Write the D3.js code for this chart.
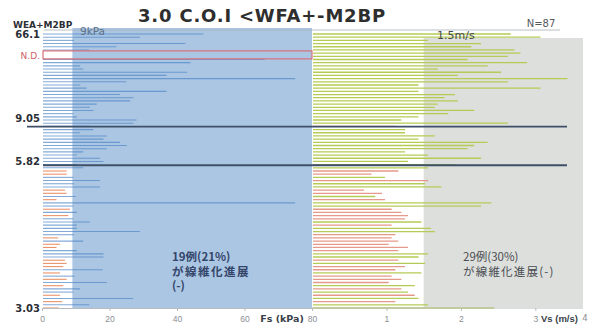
<!DOCTYPE html>
<html>
<head>
<meta charset="utf-8">
<script src="https://cdn.jsdelivr.net/npm/d3@7"></script>
<style>
  body { margin: 0; background: #fff; }
  svg { display: block; }
</style>
</head>
<body>
<div id="chartdiv"></div>
<script>
// Fs (kPa) per patient, sorted by WFA+-M2BP (66.1 at top -> 3.03 at bottom); null = N.D.
var fsValues = [
  47.8, 29, 9.5, 42.5, 22, 14, null, null, 66, 44,
  11.3, 12.2, 43, 36.9, 75, 25, 11.3, 13.2, 36.9, 23.1,
  27.1, 26.1, 16.2, 14.2, 15.2, 9.3, 10.3, 28, 27.1, 14.2,
  15.2, 11.3, 19.2, 18.2, 23.1, 25.1, 19.2, 12.2, 10.3, 17.2,
  18.2, 10.3, 12.2, 7.3, 7.3, 9.3, 17.2, 9.5, 17.2, 6.8,
  7.3, 10, 4.3, 75, 9.3, 8.3, 10.3, 7.8, 9.3, 14.2,
  10.3, 10.3, 29, 9.5, 4.8, 12.2, 5.3, 4.3, 10.3, 18.2,
  18.2, 6.8, 7.3, 6.3, 18, 5.3, 9.6, 7.3, 19.2, 6.3,
  11.3, 9.3, 5.3, 27, 6, 14, 5
];
// Vs (m/s) per patient, same order
var vsValues = [
  2.67, 3.07, 1.56, 2.27, 2.14, 2.72, 2.8, 2.63, 2.09, 2.89,
  2.36, 1.69, 2.54, 1.96, 3.43, 2.63, 1.43, 3.07, 1.43, 1.92,
  1.78, 1.96, 1.69, 1.65, 2.18, 1.83, 1.43, 1.2, 2.63, 1.12,
  1.25, 1.25, 1.65, 1.43, 2.36, 2.18, 2.09, 1.25, 1.56, 2.27,
  1.29, 1.92, 1.56, 1.16, 0.8, 0.98, 1.56, 1.52, 1.74, 0.7,
  0.94, 0.85, 0.98, 2.41, 2.27, 1.07, 1.2, 1.29, 1.25, 1.47,
  1.07, 1.6, 1.65, 1.12, 1.07, 1.16, 1.03, 1.29, 1.16, 1.56,
  1.43, 1.16, 1.52, 1.25, 1.12, 1.47, 1.07, 1.2, 1.03, 1.38,
  1.2, 1.29, 1.38, 1.43, 1.12, 1.56, 2.45
];
// 1 = drawn in red on the Vs side
var vsRed = [
  0,0,0,0,0,0,0,0,0,0, 0,0,0,0,0,0,0,0,0,0,
  0,0,0,0,0,0,0,0,0,1, 0,0,0,0,0,0,0,0,0,0,
  0,0,0,1,1,0,1,0,0,1, 1,0,1,0,0,1,1,1,1,0,
  1,0,0,1,1,1,1,1,1,0, 0,1,0,1,1,0,1,1,1,0,
  1,0,1,0,1,0,0
];

var fsTicks = [0, 20, 40, 60, 80];
var vsTicks = [1, 2, 3];
var fsCut = 9;     // kPa
var vsCut = 1.5;   // m/s
var m2bpLabels = [
  {text: "66.1", row: 0},
  {text: "N.D.", row: 6.5},
  {text: "9.05", row: 26.4},
  {text: "5.82", row: 39.8},
  {text: "3.03", row: 86}
];
var sepRows = [29.1, 41.2];
var ndRows = [5.3, 7.8];

var W = 589, H = 325;
var svg = d3.select("#chartdiv").append("svg")
  .attr("width", W)
  .attr("height", H)
  .style("font-family", "'DejaVu Sans', sans-serif");

var y = d3.scaleLinear().domain([0, fsValues.length - 1]).range([34, 308]);
var xFs = d3.scaleLinear().domain([0, 80]).range([42, 312]);
var xVs = d3.scaleLinear().domain([0, 3.6]).range([312, 580]);

// background zones (>= 9kPa, >= 1.5m/s)
svg.append("rect")
  .attr("x", xFs(fsCut)).attr("y", 28)
  .attr("width", xFs(80) - xFs(fsCut)).attr("height", 280)
  .attr("fill", "#abc6e3");
svg.append("rect")
  .attr("x", xVs(vsCut)).attr("y", 38)
  .attr("width", 583 - xVs(vsCut)).attr("height", 269)
  .attr("fill", "#dddfdc");

// top thin line
svg.append("line")
  .attr("x1", 44).attr("x2", 560).attr("y1", 30).attr("y2", 30)
  .attr("stroke", "#a8b0b8").attr("stroke-width", 0.8);

// Fs bars
svg.selectAll(".fs")
    .data(fsValues.map((v, i) => ({v: v, i: i})).filter(d => d.v != null))
  .enter().append("line")
    .attr("class", "fs")
    .attr("x1", xFs(0) + 1)
    .attr("x2", d => xFs(d.v))
    .attr("y1", d => y(d.i))
    .attr("y2", d => y(d.i))
    .attr("stroke", d => d.v < fsCut ? "#e8875a" : "#4f86c6")
    .attr("stroke-opacity", d => d.v < fsCut ? 0.9 : 0.7)
    .attr("stroke-width", 1.1);

// Vs bars
svg.selectAll(".vs")
    .data(vsValues.map((v, i) => ({v: v, i: i})))
  .enter().append("line")
    .attr("class", "vs")
    .attr("x1", xVs(0) + 1)
    .attr("x2", d => xVs(d.v))
    .attr("y1", d => y(d.i))
    .attr("y2", d => y(d.i))
    .attr("stroke", d => vsRed[d.i] ? "#e5998a" : "#b4cb55")
    .attr("stroke-width", 1.3);

// N.D. box
svg.append("rect")
  .attr("x", 43).attr("y", y(ndRows[0]))
  .attr("width", xFs(80) - 43).attr("height", y(ndRows[1]) - y(ndRows[0]))
  .attr("fill", "none")
  .attr("stroke", "#d9707a").attr("stroke-width", 1.2);

// M2BP cut-off lines
svg.selectAll(".sep")
    .data(sepRows)
  .enter().append("line")
    .attr("class", "sep")
    .attr("x1", (d, i) => i == 0 ? 27 : 43)
    .attr("x2", 567)
    .attr("y1", d => y(d))
    .attr("y2", d => y(d))
    .attr("stroke", "#3e4f68")
    .attr("stroke-width", 1.8);

// bottom axes
var axisY = 308;
svg.append("g")
  .attr("class", "xaxis")
  .attr("transform", "translate(0," + axisY + ")")
  .call(d3.axisBottom(xFs).tickValues(fsTicks).tickSize(3).tickPadding(5))
  .call(g => g.select(".domain").attr("stroke", "#b8bcc0"))
  .call(g => g.selectAll("line").attr("stroke", "#b8bcc0"))
  .selectAll("text")
    .attr("font-size", "8.5px")
    .attr("fill", "#8a8e92");

svg.append("g")
  .attr("class", "xaxis2")
  .attr("transform", "translate(0," + axisY + ")")
  .call(d3.axisBottom(xVs).tickValues(vsTicks).tickFormat(d3.format("d")).tickSize(3).tickPadding(5))
  .call(g => g.select(".domain").attr("stroke", "#b8bcc0").attr("d", "M" + xVs(0) + ",0H583"))
  .call(g => g.selectAll("line").attr("stroke", "#b8bcc0"))
  .selectAll("text")
    .attr("font-size", "8.5px")
    .attr("fill", "#8a8e92");

svg.append("text")
  .attr("x", 282).attr("y", 322)
  .attr("text-anchor", "middle")
  .attr("font-size", "9.5px").attr("font-weight", "bold")
  .attr("fill", "#3a3f48")
  .text("Fs (kPa)");
svg.append("text")
  .attr("x", 541).attr("y", 322)
  .attr("font-size", "9.5px").attr("font-weight", "bold")
  .attr("font-family", "'Liberation Sans', sans-serif")
  .attr("fill", "#3a3f48")
  .text("Vs (m/s)");
svg.append("text")
  .attr("x", 585).attr("y", 321)
  .attr("text-anchor", "middle")
  .attr("font-size", "8.5px")
  .attr("fill", "#8a8e92")
  .text("4");

// left labels
svg.append("text")
  .attr("x", 13).attr("y", 28)
  .attr("font-size", "9px").attr("font-weight", "bold")
  .attr("fill", "#2c2f36")
  .text("WEA+M2BP");
svg.selectAll(".ylab")
    .data(m2bpLabels)
  .enter().append("text")
    .attr("class", "ylab")
    .attr("x", 40)
    .attr("y", d => y(d.row) + 4)
    .attr("text-anchor", "end")
    .attr("font-size", d => d.text == "N.D." ? "9px" : "10px")
    .attr("font-weight", d => d.text == "N.D." ? "normal" : "bold")
    .attr("fill", d => d.text == "N.D." ? "#d0606a" : "#2c2f36")
    .text(d => d.text);

// title and notes
svg.append("text")
  .attr("x", 262).attr("y", 22)
  .attr("text-anchor", "middle")
  .attr("font-size", "18px").attr("font-weight", "bold")
  .attr("letter-spacing", "0.8px")
  .attr("fill", "#2e2e2e")
  .text("3.0 C.O.I  <WFA+-M2BP");
svg.append("text")
  .attr("x", 541).attr("y", 27)
  .attr("text-anchor", "middle")
  .attr("font-size", "10px")
  .attr("fill", "#55595e")
  .text("N=87");
svg.append("text")
  .attr("x", 80).attr("y", 35)
  .attr("font-size", "10.5px")
  .attr("fill", "#59708a")
  .text("9kPa");
svg.append("text")
  .attr("x", 437).attr("y", 39)
  .attr("font-size", "11px")
  .attr("fill", "#44484e")
  .text("1.5m/s");

// notes, one text per line
var notesL = ["19例(21%)", "が線維化進展", "(-)"];
var notesR = ["29例(30%)", "が線維化進展(-)"];
svg.selectAll(".noteL")
    .data(notesL)
  .enter().append("text")
    .attr("class", "noteL")
    .attr("x", 172)
    .attr("y", (d, i) => 261 + i * 14.5)
    .attr("font-size", "11.5px")
    .attr("font-weight", "bold")
    .attr("letter-spacing", (d, i) => i == 1 ? "1.5px" : "0px")
    .attr("fill", "#34456a")
    .attr("font-family", "'Noto Sans CJK JP', sans-serif")
    .text(d => d);
svg.selectAll(".noteR")
    .data(notesR)
  .enter().append("text")
    .attr("class", "noteR")
    .attr("x", 463)
    .attr("y", (d, i) => 261 + i * 14.5)
    .attr("font-size", "11.5px")
    .attr("letter-spacing", (d, i) => i == 1 ? "1.2px" : "0px")
    .attr("fill", "#4a4d52")
    .attr("font-family", "'Noto Sans CJK JP', sans-serif")
    .text(d => d);
</script>
</body>
</html>
